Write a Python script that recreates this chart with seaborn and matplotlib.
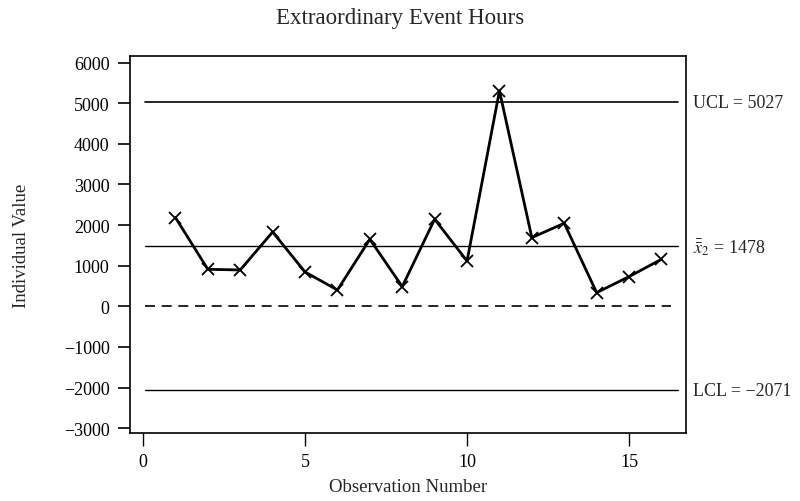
import matplotlib
matplotlib.use('Agg')
import matplotlib.pyplot as plt
import numpy as np
import pandas as pd
import seaborn as sns

# observation numbers and individual values
obs = [1, 2, 3, 4, 5, 6, 7, 8, 9, 10, 11, 12, 13, 14, 15, 16]
values = [2185, 911, 895, 1830, 845, 402, 1650, 485, 2143, 1116, 5303, 1692, 2044, 337, 731, 1158]

# control limits
ucl = 5027
center = 1478
lcl = -2071

y_ticks = [-3000, -2000, -1000, 0, 1000, 2000, 3000, 4000, 5000, 6000]
x_ticks = [0, 5, 10, 15]

sns.set_style("ticks")
plt.rcParams['font.family'] = ['Liberation Serif', 'DejaVu Serif']
plt.rcParams['mathtext.fontset'] = 'stix'

fig = plt.figure(figsize=(8, 5.02), dpi=100)
ax = fig.add_axes([0.163, 0.135, 0.695, 0.751])

df = pd.DataFrame({'Observation Number': obs, 'Individual Value': values})

# limit lines
ax.plot([0.05, 16.5], [ucl, ucl], color='black', linewidth=1.2)
ax.plot([0.05, 16.5], [center, center], color='black', linewidth=1.0)
ax.plot([0.05, 16.5], [lcl, lcl], color='black', linewidth=1.0)
ax.plot([0.05, 16.3], [0, 0], color='black', linewidth=1.2, dashes=(6, 4))

sns.lineplot(data=df, x='Observation Number', y='Individual Value', ax=ax,
             color='black', linewidth=2, marker='x', markersize=8,
             markeredgewidth=1.3, markeredgecolor='black')

ax.set_xlim(-0.39, 16.77)
ax.set_ylim(-3123, 6155)
ax.set_xticks(x_ticks)
ax.set_yticks(y_ticks)
ax.set_yticklabels([str(v).replace('-', '\u2212') for v in y_ticks])
ax.tick_params(axis='y', length=9, width=1.2, pad=6, labelsize=13, colors='black')
ax.tick_params(axis='x', length=9, width=1.0, pad=5, labelsize=13, colors='black')

for s in ax.spines.values():
    s.set_visible(True)
    s.set_linewidth(1.2)
    s.set_color('black')

ax.set_xlabel('Observation Number', fontsize=13.5, labelpad=6)
ax.set_ylabel('Individual Value', fontsize=13.5, labelpad=24)
fig.suptitle('Extraordinary Event Hours', fontsize=16.5, y=0.985)

# limit labels to the right of the frame
ax.text(1.012, ucl, 'UCL = 5027', transform=ax.get_yaxis_transform(),
        va='center', ha='left', fontsize=13)
ax.text(1.012, center, r'$\bar{\bar{x}}_2$' + ' = 1478', transform=ax.get_yaxis_transform(),
        va='center', ha='left', fontsize=13)
ax.text(1.012, lcl, 'LCL = \u22122071', transform=ax.get_yaxis_transform(),
        va='center', ha='left', fontsize=13)

plt.savefig('out.png', dpi=100)
plt.close()
